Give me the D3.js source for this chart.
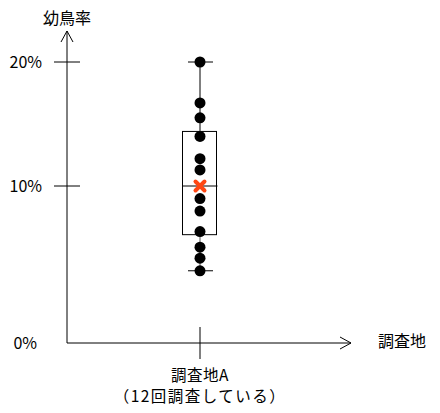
<!DOCTYPE html>
<html>
<head>
<meta charset="utf-8">
<script src="https://cdn.jsdelivr.net/npm/d3@7"></script>
<style>
  body { margin: 0; background: #fff; }
  text { font-family: "Noto Sans CJK JP", sans-serif; fill: #000; }
</style>
</head>
<body>
<svg id="chart" width="440" height="413"></svg>
<script>
'use strict';

// data (percent)
const categories = ["調査地A"];
const subLabels = ["（12回調査している）"];
const surveyValues = [20, 16.7, 15.5, 14.0, 12.2, 11.3, 9.2, 8.4, 7.1, 6.1, 5.4, 4.6];
const boxStats = { q1: 6.9, median: 10, q3: 14.4 };
const meanValue = 10;
const yTicks = [0, 10, 20];
const yTickLabels = ["0%", "10%", "20%"];

const svg = d3.select("#chart");

// the drawing is not evenly spaced, so use a piecewise scale
const y = d3.scaleLinear().domain([0, 10, 20]).range([343, 186, 62]);
const x = d3.scaleBand().domain(categories).range([67, 333]);
const cx = function(d) { return x(d) + x.bandwidth() / 2; };

// axes
svg.append("line").attr("x1", 67).attr("x2", 67).attr("y1", 343).attr("y2", 31)
  .attr("stroke", "#000").attr("stroke-width", 1);
svg.append("path").attr("d", "M61,42L67,31L73,42").attr("fill", "none").attr("stroke", "#000");
svg.append("line").attr("x1", 67).attr("x2", 351).attr("y1", 343).attr("y2", 343)
  .attr("stroke", "#000");
svg.append("path").attr("d", "M340,337L351,343L340,349").attr("fill", "none").attr("stroke", "#000");

svg.append("text").attr("x", 67).attr("y", 24).attr("text-anchor", "middle")
  .attr("font-size", 16).text("幼鳥率");
svg.append("text").attr("x", 378).attr("y", 347).attr("font-size", 16).text("調査地");

// y ticks
yTicks.forEach(function(t, i) {
  if (t > 0) {
    svg.append("line").attr("x1", 54).attr("x2", 80).attr("y1", y(t)).attr("y2", y(t))
      .attr("stroke", "#000");
  }
  svg.append("text").attr("x", t > 0 ? 42 : 37).attr("y", y(t) + 6).attr("text-anchor", "end")
    .attr("font-size", 16).text(yTickLabels[i]);
});

// category ticks and labels
categories.forEach(function(c, i) {
  svg.append("line").attr("x1", cx(c)).attr("x2", cx(c)).attr("y1", 327).attr("y2", 359)
    .attr("stroke", "#000");
  svg.append("text").attr("x", cx(c)).attr("y", 381).attr("text-anchor", "middle")
    .attr("font-size", 15.5).attr("letter-spacing", 0.5).text(c);
  svg.append("text").attr("x", cx(c)).attr("y", 402).attr("text-anchor", "middle")
    .attr("font-size", 15.5).attr("letter-spacing", 1.5).text(subLabels[i]);
});

const c0 = categories[0];
const vmax = d3.max(surveyValues), vmin = d3.min(surveyValues);

// whiskers
svg.append("line").attr("x1", cx(c0)).attr("x2", cx(c0)).attr("y1", y(vmax)).attr("y2", y(boxStats.q3))
  .attr("stroke", "#000");
svg.append("line").attr("x1", cx(c0)).attr("x2", cx(c0)).attr("y1", y(boxStats.q1)).attr("y2", y(vmin))
  .attr("stroke", "#555");
[vmax, vmin].forEach(function(v) {
  svg.append("line").attr("x1", cx(c0) - 12).attr("x2", cx(c0) + 13).attr("y1", y(v)).attr("y2", y(v))
    .attr("stroke", "#000");
});

// box
svg.append("rect").attr("x", cx(c0) - 17.5).attr("width", 34)
  .attr("y", y(boxStats.q3)).attr("height", y(boxStats.q1) - y(boxStats.q3))
  .attr("fill", "none").attr("stroke", "#000");
svg.append("line").attr("x1", cx(c0) - 17.5).attr("x2", cx(c0) + 17.5)
  .attr("y1", y(boxStats.median)).attr("y2", y(boxStats.median)).attr("stroke", "#000");

// points
svg.selectAll("circle.pt").data(surveyValues).enter().append("circle")
  .attr("class", "pt")
  .attr("cx", cx(c0)).attr("cy", function(d) { return y(d); }).attr("r", 5.5)
  .attr("fill", "#000");

// mean marker
const my = y(meanValue), mx = cx(c0), s = 4.5;
svg.append("path")
  .attr("d", "M" + (mx - s) + "," + (my - s) + "L" + (mx + s) + "," + (my + s) +
             "M" + (mx + s) + "," + (my - s) + "L" + (mx - s) + "," + (my + s))
  .attr("stroke", "#ff4713").attr("stroke-width", 4).attr("stroke-linecap", "round");
</script>
</body>
</html>
